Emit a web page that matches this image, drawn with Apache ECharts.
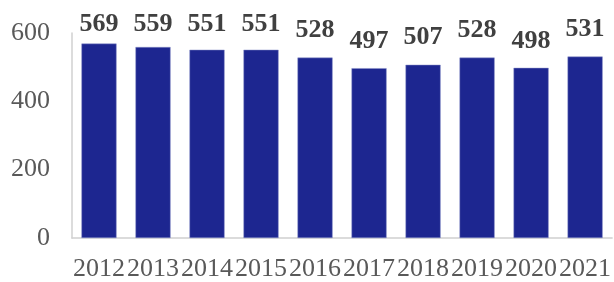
<!DOCTYPE html>
<html><head><meta charset="utf-8">
<script src="https://cdn.jsdelivr.net/npm/echarts@6/dist/echarts.min.js"></script>
<style>html,body{margin:0;padding:0;background:#fff}#c{width:614px;height:282px}</style>
</head><body><div id="c"></div>
<script>
var years = ['2012','2013','2014','2015','2016','2017','2018','2019','2020','2021'];
var values = [569,559,551,551,528,497,507,528,498,531];
var yTicks = [0,200,400,600];
var chart = echarts.init(document.getElementById('c'));
chart.setOption({
  animation:false,
  grid:{left:72,right:0,top:33,bottom:43,containLabel:false},
  xAxis:{type:'category',data:years,
    axisLine:{show:true,lineStyle:{color:'#d0d0d0',width:1.5}},
    axisTick:{show:false},
    axisLabel:{color:'#595959',fontFamily:'Liberation Serif',fontSize:26,margin:18,interval:0}},
  yAxis:{type:'value',min:yTicks[0],max:yTicks[yTicks.length-1],interval:200,
    axisLine:{show:true,lineStyle:{color:'#d0d0d0',width:1.5}},
    axisTick:{show:false},splitLine:{show:false},
    axisLabel:{color:'#595959',fontFamily:'Liberation Serif',fontSize:26,margin:22}},
  series:[{type:'bar',data:values,barWidth:'65%',
    itemStyle:{color:'#1d2690',borderColor:'#8a90c8',borderWidth:0.5},
    label:{show:true,position:'top',distance:14,color:'#404040',fontFamily:'Liberation Serif',fontWeight:'bold',fontSize:26},
    labelLayout:function(p){
      var r = p.labelRect;
      return {x:r.x + r.width/2, y:Math.max(r.y + r.height, 37), align:'center', verticalAlign:'bottom'};
    }
  }]
});
</script></body></html>
